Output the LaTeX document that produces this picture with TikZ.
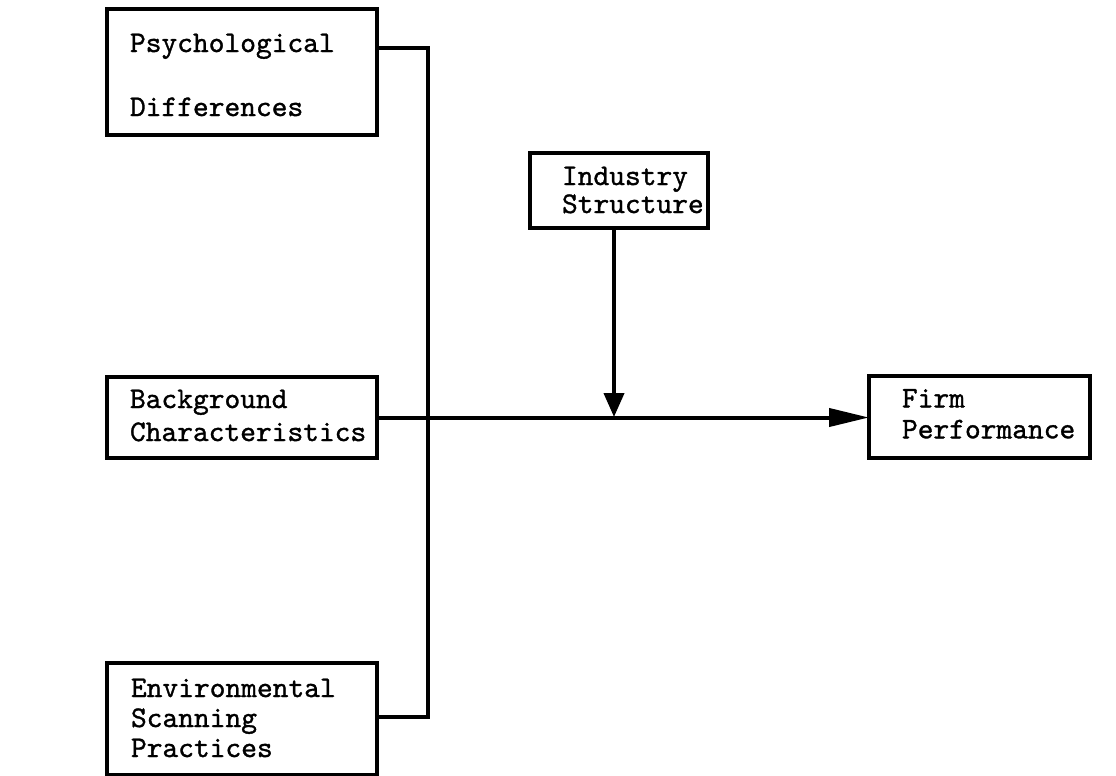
\documentclass[tikz,border=0pt]{standalone}
\usepackage{fontspec}
\newfontfamily\tw{lmmono10-regular}[Extension=.otf,FakeBold=1.1]
\usetikzlibrary{arrows.meta}
\begin{document}
\begin{tikzpicture}[x=1pt,y=-1pt,
  box/.style={draw, line width=4.6pt, inner sep=0pt, outer sep=0pt},
  txt/.style={align=left, inner sep=0pt, outer sep=0pt, anchor=north west},
  conn/.style={line width=4pt},
]
\fill[white] (0,0) rectangle (1116,776);
\useasboundingbox (0,0) rectangle (1116,776);

% boxes
\node[box, minimum width=270pt, minimum height=126pt] (psych) at (242,72) {};
\node[box, minimum width=178pt, minimum height=75pt] (ind) at (619,190.5) {};
\node[box, minimum width=270pt, minimum height=81pt] (bg) at (242,417.5) {};
\node[box, minimum width=221pt, minimum height=82pt] (firm) at (979.5,417) {};
\node[box, minimum width=270pt, minimum height=112pt] (env) at (242,719) {};

% texts
\node[txt, font=\tw\fontsize{30}{64}\selectfont] (psychT) at (130,33.7) {Psychological\\Differences};
\node[txt, font=\tw\fontsize{30}{28}\selectfont] (indT) at (562,166.7) {Industry\\Structure};
\node[txt, font=\tw\fontsize{30}{33}\selectfont] (bgT) at (130,389.7) {Background\\Characteristics};
\node[txt, font=\tw\fontsize{30}{31}\selectfont] (firmT) at (902,389) {Firm\\Performance};
\node[txt, font=\tw\fontsize{30}{30}\selectfont] (envT) at (131,678.7) {Environmental\\Scanning\\Practices};

% connectors
\coordinate (jp) at (428,48);
\coordinate (je) at (428,717);
\coordinate (ji) at (614,417);
\draw[conn] (psych.east |- jp) -- (jp) -- (je) -- (env.east |- je);
\draw[conn, -{Triangle[length=40pt,width=18pt]}] (bg.east) -- (bg.east -| firm.west);
\draw[conn, -{Triangle[length=24pt,width=20pt]}] (ind.south -| ji) -- (ji);
\end{tikzpicture}
\end{document}
